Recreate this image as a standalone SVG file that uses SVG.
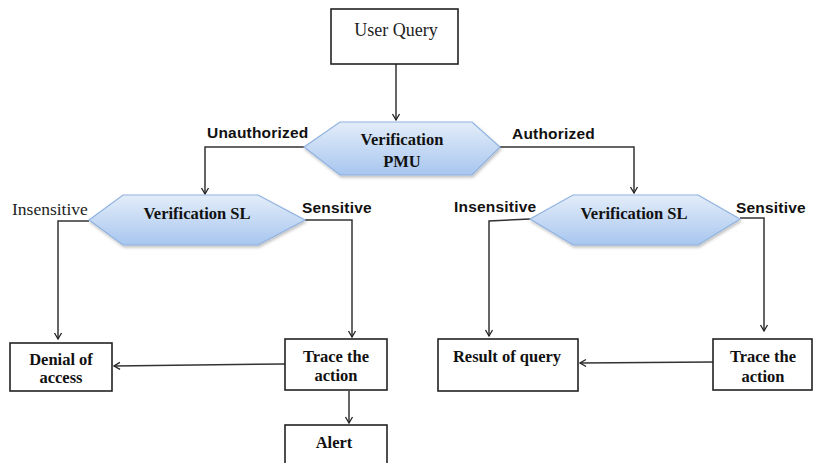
<svg xmlns="http://www.w3.org/2000/svg" width="813" height="463" viewBox="0 0 813 463">
<defs>
<linearGradient id="hexg" x1="0" y1="0" x2="0" y2="1">
<stop offset="0" stop-color="#e3edf9"/>
<stop offset="1" stop-color="#a8c6ef"/>
</linearGradient>
<filter id="sh" x="-10%" y="-20%" width="120%" height="150%">
<feDropShadow dx="1" dy="2" stdDeviation="1.5" flood-color="#000" flood-opacity="0.25"/>
</filter>
<marker id="arr" markerWidth="10" markerHeight="10" refX="8" refY="5" orient="auto" markerUnits="userSpaceOnUse">
<path d="M2,1.5 L8,5 L2,8.5" fill="none" stroke="#222" stroke-width="1.3"/>
</marker>
</defs>
<style>
.box{fill:#fff;stroke:#222;stroke-width:1.6}
.hex{fill:url(#hexg);stroke:#8fb2e0;stroke-width:1.2;filter:url(#sh)}
.ln{fill:none;stroke:#333;stroke-width:1.5}
.nb{font-weight:bold;font-size:16.5px;fill:#111;text-anchor:middle}
.lab{font-weight:bold;font-size:15.5px;fill:#111;letter-spacing:0.2px}
</style>
<rect width="813" height="463" fill="#fff"/>
<g id="connectors">
<path class="ln" d="M396,64 V120" marker-end="url(#arr)"/>
<path class="ln" d="M304,147 H205 V194" marker-end="url(#arr)"/>
<path class="ln" d="M500,147 H634 V193" marker-end="url(#arr)"/>
<path class="ln" d="M89,221 H58 V339" marker-end="url(#arr)"/>
<path class="ln" d="M305,220 H352 V337" marker-end="url(#arr)"/>
<path class="ln" d="M530,219 L489,221 V336" marker-end="url(#arr)"/>
<path class="ln" d="M740,218 H764 V331" marker-end="url(#arr)"/>
<path class="ln" d="M285,364 L114,366" marker-end="url(#arr)"/>
<path class="ln" d="M713,362 L580,363" marker-end="url(#arr)"/>
<path class="ln" d="M349,391 V423" marker-end="url(#arr)"/>
</g>
<g font-family="Liberation Serif, serif">
<g id="userquery">
<rect class="box" x="331" y="9" width="127" height="55"/>
<text x="396" y="36" font-size="18" fill="#222" text-anchor="middle">User Query</text>
</g>
<g id="verif-pmu">
<polygon class="hex" points="304,147 340,122 472,122 500,147 472,175 340,175"/>
<text class="nb" x="402" y="145">Verification</text>
<text class="nb" x="402" y="167">PMU</text>
</g>
<g id="verif-sl-left">
<polygon class="hex" points="89,220 123,195 258,195 305,220 258,245 123,245"/>
<text class="nb" x="197" y="219">Verification SL</text>
</g>
<g id="verif-sl-right">
<polygon class="hex" points="530,219 573,195 698,195 740,219 698,245 573,245"/>
<text class="nb" x="634" y="219">Verification SL</text>
</g>
<g id="denial">
<rect class="box" x="10" y="343" width="102" height="48"/>
<text class="nb" x="61" y="365">Denial of</text>
<text class="nb" x="61" y="383">access</text>
</g>
<g id="trace-left">
<rect class="box" x="285" y="339" width="102" height="51"/>
<text class="nb" x="336" y="362">Trace the</text>
<text class="nb" x="336" y="381">action</text>
</g>
<g id="alert">
<rect class="box" x="285" y="425" width="102" height="50"/>
<text class="nb" x="334" y="448">Alert</text>
</g>
<g id="result">
<rect class="box" x="438" y="339" width="140" height="52"/>
<text class="nb" x="507" y="362">Result of query</text>
</g>
<g id="trace-right">
<rect class="box" x="713" y="339" width="99" height="51"/>
<text class="nb" x="763" y="362">Trace the</text>
<text class="nb" x="763" y="382">action</text>
</g>
<text x="12" y="215" font-size="17.5" fill="#222">Insensitive</text>
</g>
<g id="labels" font-family="Liberation Sans, sans-serif">
<text class="lab" x="207" y="138">Unauthorized</text>
<text class="lab" x="512" y="139">Authorized</text>
<text class="lab" x="302" y="213">Sensitive</text>
<text class="lab" x="454" y="212">Insensitive</text>
<text class="lab" x="736" y="213">Sensitive</text>
</g>
</svg>
